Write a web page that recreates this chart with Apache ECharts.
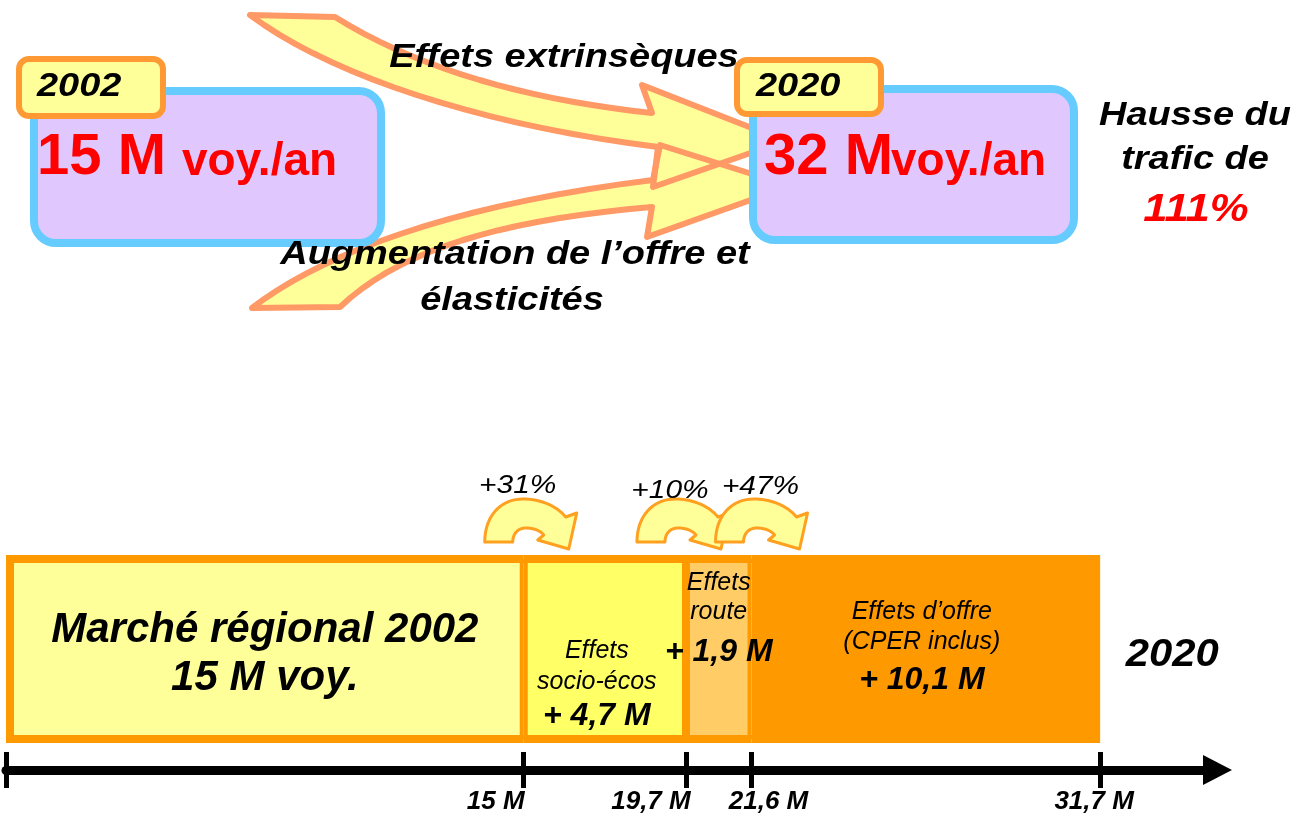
<!DOCTYPE html>
<html>
<head>
<meta charset="utf-8">
<title>Trafic régional 2002 - 2020</title>
<script src="https://cdn.jsdelivr.net/npm/echarts@6/dist/echarts.min.js"></script>
<style>
  html, body { margin: 0; padding: 0; background: #fff; }
  #main { width: 1296px; height: 818px; }
</style>
</head>
<body>
<div id="main"></div>
<script>
// ---- données ----
const years = ['2002', '2020']
const totals = [15, 32]            // M voy./an
const hausse = 111                 // %
const segNames = ['Marché régional 2002', 'Effets socio-écos', 'Effets route', 'Effets d’offre']
const segValues = [15, 4.7, 1.9, 10.1]
const tickValues = [0, 15, 19.7, 21.6, 31.7]
const tickLabels = ['', '15 M', '19,7 M', '21,6 M', '31,7 M']
const growth = ['+31%', '+10%', '+47%']

const FONT = '"Liberation Sans", Arial, Helvetica, sans-serif'
const fr = (v) => String(v).replace('.', ',')

// petit parseur M/L/C -> points de polygone (formes décoratives)
function pathPoints(d) {
  const tok = d.trim().split(/[\s,]+/)
  const pts = []
  let i = 0, cmd = null, cur = [0, 0]
  while (i < tok.length) {
    if (/^[MLCZ]$/.test(tok[i])) { cmd = tok[i++]; if (cmd === 'Z') continue }
    if (cmd === 'M' || cmd === 'L') {
      cur = [+tok[i], +tok[i + 1]]; pts.push(cur); i += 2
    } else if (cmd === 'C') {
      const p0 = cur
      const p1 = [+tok[i], +tok[i + 1]], p2 = [+tok[i + 2], +tok[i + 3]], p3 = [+tok[i + 4], +tok[i + 5]]
      i += 6
      for (let k = 1; k <= 18; k++) {
        const t = k / 18, u = 1 - t
        pts.push([
          u * u * u * p0[0] + 3 * u * u * t * p1[0] + 3 * u * t * t * p2[0] + t * t * t * p3[0],
          u * u * u * p0[1] + 3 * u * u * t * p1[1] + 3 * u * t * t * p2[1] + t * t * t * p3[1]
        ])
      }
      cur = p3
    } else { i++ }
  }
  return pts
}

const chart = echarts.init(document.getElementById('main'))

// ---- libellés des segments ----
const fills = ['#FFFF99', '#FFFF66', '#FFCC66', '#FF9900']
const small = (lh) => ({ fontFamily: FONT, fontSize: 25, fontStyle: 'italic', color: '#000', lineHeight: lh })
const big = (lh) => ({ fontFamily: FONT, fontSize: 32, fontStyle: 'italic', fontWeight: 'bold', color: '#000', lineHeight: lh })
const segLabels = [
  {
    formatter: '{b|' + segNames[0] + '}\n{b|' + segValues[0] + ' M voy.}',
    offset: [0, 5],
    rich: { b: { fontFamily: FONT, fontSize: 42, fontStyle: 'italic', fontWeight: 'bold', color: '#000', lineHeight: 48 } }
  },
  {
    formatter: '{s|Effets}\n{s|socio-écos}\n{v|+ ' + fr(segValues[1]) + ' M}',
    offset: [-8, 36],
    rich: { s: small(31), v: big(36) }
  },
  {
    formatter: '{s|Effets}\n{s|route}\n{v|+ ' + fr(segValues[2]) + ' M}',
    offset: [0, -26],
    rich: { s: small(29), v: big(51) }
  },
  {
    formatter: '{s|Effets d’offre}\n{s|(CPER inclus)}\n{v|+ ' + fr(segValues[3]) + ' M}',
    offset: [-4, 1],
    rich: { s: small(30), v: big(46) }
  }
]

const series = segValues.map((v, i) => ({
  name: segNames[i],
  type: 'bar',
  stack: 'total',
  barWidth: 188,
  data: [v],
  itemStyle: { color: fills[i], borderColor: '#FF9900', borderWidth: 4 },
  label: Object.assign({ show: true, position: 'inside', color: '#000' }, segLabels[i])
}))

// décalage horizontal des libellés de graduation
const tickShift = [0, -28, -35, 17, -6]
const tickRich = {}
tickShift.forEach((s, i) => {
  tickRich['t' + i] = {
    fontFamily: FONT, fontSize: 26, fontStyle: 'italic', fontWeight: 'bold', color: '#000',
    padding: s < 0 ? [0, -2 * s, 0, 0] : [0, 0, 0, 2 * s]
  }
})

const axisMax = 35.1

chart.setOption({
  animation: false,
  backgroundColor: '#fff',
  grid: { left: 6, right: 78.5, top: 528, bottom: 48, containLabel: false, outerBoundsMode: 'none' },
  xAxis: [
    {
      type: 'value', min: 0, max: axisMax, position: 'bottom',
      axisLine: { show: true, symbol: ['none', 'triangle'], symbolSize: [30, 29], lineStyle: { color: '#000', width: 9 } },
      axisTick: { show: true, customValues: tickValues, length: 18, lineStyle: { color: '#000', width: 5 } },
      axisLabel: {
        show: true,
        customValues: tickValues.slice(1),
        margin: 19,
        formatter: (val) => {
          const i = tickValues.indexOf(val)
          return '{t' + i + '|' + tickLabels[i] + '}'
        },
        rich: tickRich
      },
      splitLine: { show: false }
    },
    {
      type: 'value', min: 0, max: axisMax, position: 'bottom', gridIndex: 0,
      axisLine: { show: false },
      axisLabel: { show: false },
      axisTick: { show: true, inside: true, customValues: tickValues, length: 18, lineStyle: { color: '#000', width: 5 } },
      splitLine: { show: false }
    }
  ],
  yAxis: { type: 'category', data: [years[0] + ' - ' + years[1]], show: false },
  series: series
})

// ---- éléments graphiques ----
const px = (v) => chart.convertToPixel({ xAxisIndex: 0 }, v)
const barMid = chart.convertToPixel({ yAxisIndex: 0 }, 0)
const barTop = barMid - 94
const total = segValues.reduce((a, b) => a + b, 0)

const topArrowD = 'M 250 15 L 335 17 C 420 70 530 100 652 113 L 642 85 L 785 141 L 653 187 L 658 147 C 480 125 330 75 250 15 Z'
const botArrowD = 'M 252 308 C 320 255 450 205 653 180 L 660 145 L 790 186 L 647 237 L 652 207 C 500 220 400 250 340 307 Z'
const uArrowD = 'M 0 0 C 0 -26 16 -43 38 -43 C 56 -43 72 -36 81 -25 L 92 -29 L 84 7 L 53 -2 L 59 -7 C 55 -12 48 -14 41 -14 C 33 -14 28 -8 28 0 Z'

const blackText = (txt, x, y, size, color) => ({
  type: 'text', x: x, y: y, scaleX: 1.15,
  style: {
    text: txt, font: 'italic bold ' + size + 'px ' + FONT, fill: color || '#000',
    textAlign: 'center', textVerticalAlign: 'middle'
  }
})

const els = []
// grandes flèches courbes
const arrows = [pathPoints(botArrowD), pathPoints(topArrowD)]
arrows.forEach((p) => els.push({ type: 'polygon', shape: { points: p }, style: { fill: '#FFFF99' } }))
arrows.forEach((p) => els.push({ type: 'polygon', shape: { points: p }, style: { fill: 'none', stroke: '#FF9966', lineWidth: 6, lineJoin: 'round' } }))

// boîtes 2002 / 2020
const boxes = [
  { box: [34, 91, 347, 152], tag: [19, 59, 144, 57], num: [37, 157.5], unit: [182, 162], year: [37, 87] },
  { box: [753, 89, 321, 151], tag: [737, 60, 144, 54], num: [764, 157.5], unit: [891, 162], year: [756, 87] }
]
boxes.forEach((b, i) => {
  els.push({ type: 'rect', shape: { x: b.box[0], y: b.box[1], width: b.box[2], height: b.box[3], r: 22 },
    style: { fill: '#E0C8FF', stroke: '#66CCFF', lineWidth: 8 } })
  els.push({ type: 'rect', shape: { x: b.tag[0], y: b.tag[1], width: b.tag[2], height: b.tag[3], r: 10 },
    style: { fill: '#FFFF99', stroke: '#FF9933', lineWidth: 6 } })
  els.push({ type: 'text', x: b.year[0], y: b.year[1], scaleX: 1.15,
    style: { text: years[i], font: 'italic bold 33px ' + FONT, fill: '#000', textAlign: 'left', textVerticalAlign: 'middle' } })
  els.push({ type: 'text', x: b.num[0], y: b.num[1],
    style: { text: totals[i] + ' M', font: 'bold 58px ' + FONT, fill: '#FF0000', textAlign: 'left', textVerticalAlign: 'middle' } })
  els.push({ type: 'text', x: b.unit[0], y: b.unit[1],
    style: { text: 'voy./an', font: 'bold 46px ' + FONT, fill: '#FF0000', textAlign: 'left', textVerticalAlign: 'middle' } })
})

els.push(blackText('Effets extrinsèques', 564, 58, 33))
els.push(blackText('Augmentation de l’offre et', 515, 255, 33))
els.push(blackText('élasticités', 512, 301, 33))
els.push(blackText('Hausse du', 1195, 116, 33))
els.push(blackText('trafic de', 1195, 160, 33))
els.push(blackText(hausse + '%', 1196, 211, 38, '#FF0000'))

// cadre orange extérieur de la barre (complète la bordure des segments)
const x0 = px(0), x1 = px(total)
els.push({ type: 'rect', z: 10, silent: true,
  shape: { x: x0 + 6, y: barTop + 6, width: x1 - x0 - 12, height: 176 },
  style: { fill: 'none', stroke: '#FF9900', lineWidth: 4 } })

// petites flèches de croissance au-dessus de la barre
const bounds = [segValues[0], segValues[0] + segValues[1], segValues[0] + segValues[1] + segValues[2]]
const footDx = [-39, -49, -36]
const pctDx = [-6, -16, 9]
const pctDy = [486, 491, 487]
const uPts = pathPoints(uArrowD)
bounds.forEach((b, i) => {
  els.push({ type: 'polygon', x: px(b) + footDx[i], y: barTop - 13, shape: { points: uPts },
    style: { fill: '#FFFF99', stroke: '#FFA020', lineWidth: 3, lineJoin: 'round' } })
})
bounds.forEach((b, i) => {
  els.push({ type: 'text', x: px(b) + pctDx[i], y: pctDy[i], scaleX: 1.15,
    style: { text: growth[i], font: 'italic 26px ' + FONT, fill: '#000', textAlign: 'center', textVerticalAlign: 'middle' } })
})

// année d'arrivée à droite de la barre
els.push({ type: 'text', x: px(total) + 72, y: barMid + 7, scaleX: 1.1,
  style: { text: years[1], font: 'italic bold 38px ' + FONT, fill: '#000', textAlign: 'center', textVerticalAlign: 'middle' } })

chart.setOption({ graphic: { elements: els } })
</script>
</body>
</html>
